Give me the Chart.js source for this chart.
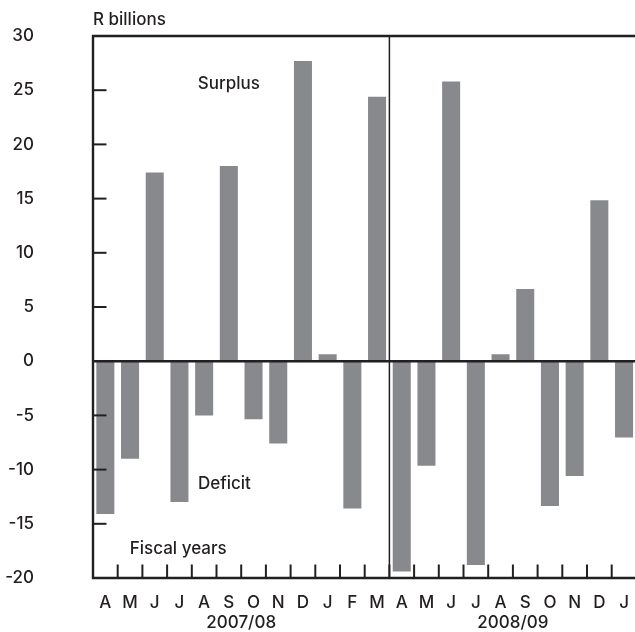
<!DOCTYPE html>
<html><head><meta charset="utf-8">
<script src="https://cdn.jsdelivr.net/npm/chart.js@4.4.1/dist/chart.umd.min.js"></script>
<style>
html,body{margin:0;padding:0;background:#fff;overflow:hidden;width:635px;height:632px}
#wrap{width:640px;height:632px;position:relative}
</style>
</head><body>
<div id="wrap"><canvas id="c" width="640" height="632" style="width:640px;height:632px"></canvas></div>
<script>
// ---- data ----
const months = ['A','M','J','J','A','S','O','N','D','J','F','M','A','M','J','J','A','S','O','N','D','J'];
const fiscalYears = ['2007/08','2008/09'];
const yearOfMonth = [0,0,0,0,0,0,0,0,0,0,0,0,1,1,1,1,1,1,1,1,1,1];
const balance = [-14.1,-9.0,17.4,-13.0,-5.0,18.0,-5.35,-7.6,27.7,0.65,-13.6,24.4,
                 -19.4,-9.65,25.8,-18.8,0.65,6.65,-13.35,-10.6,14.85,-7.05];
const yTicks = [-20,-15,-10,-5,0,5,10,15,20,25,30];
const unitLabel = 'R billions';
const notes = [
  {text:'Surplus', x:5, y:25.6, align:'center'},
  {text:'Deficit', x:3.75, y:-11.3, align:'left'},
  {text:'Fiscal years', x:2.95, y:-17.3, align:'center'}
];

const INK = '#231f20';
const BAR = '#88898d';
const FONT = "Inter, 'Liberation Sans', Arial, sans-serif";
const WEIGHT = 500;

const framePlugin = {
  id: 'frame',
  afterDatasetsDraw(chart) {
    const {ctx, chartArea: a, scales: {x, y}} = chart;
    ctx.save();
    ctx.strokeStyle = INK;
    ctx.lineCap = 'butt';
    // ticks on left axis (inward)
    ctx.lineWidth = 2;
    yTicks.forEach(v => {
      if (v === 0 || v === yTicks[0] || v === yTicks[yTicks.length-1]) return;
      const py = y.getPixelForValue(v);
      ctx.beginPath(); ctx.moveTo(a.left, py); ctx.lineTo(a.left + 13.5, py); ctx.stroke();
    });
    // ticks on bottom axis (inward) at category boundaries
    for (let i = 1; i < months.length; i++) {
      const px = (x.getPixelForValue(i-1) + x.getPixelForValue(i)) / 2;
      ctx.beginPath(); ctx.moveTo(px, a.bottom); ctx.lineTo(px, a.bottom - 13.5); ctx.stroke();
    }
    // fiscal year divider
    ctx.lineWidth = 1.5;
    for (let i = 1; i < months.length; i++) {
      if (yearOfMonth[i] !== yearOfMonth[i-1]) {
        const px = (x.getPixelForValue(i-1) + x.getPixelForValue(i)) / 2;
        ctx.beginPath(); ctx.moveTo(px, a.top); ctx.lineTo(px, a.bottom); ctx.stroke();
      }
    }
    // frame + zero line
    ctx.lineWidth = 2.4;
    ctx.beginPath();
    ctx.moveTo(a.right + 5, a.top); ctx.lineTo(a.left, a.top); ctx.lineTo(a.left, a.bottom); ctx.lineTo(a.right + 5, a.bottom);
    ctx.stroke();
    const z = y.getPixelForValue(0);
    ctx.beginPath(); ctx.moveTo(a.left, z); ctx.lineTo(a.right + 5, z); ctx.stroke();

    // texts
    ctx.fillStyle = INK;
    ctx.font = WEIGHT + ' 17px ' + FONT;
    ctx.textBaseline = 'middle';
    notes.forEach(n => {
      ctx.textAlign = n.align;
      ctx.fillText(n.text, x.getPixelForValue(n.x), y.getPixelForValue(n.y));
    });
    ctx.textAlign = 'left';
    ctx.fillText(unitLabel, a.left, a.top - 16);
    // year labels centred under their months
    ctx.textAlign = 'center';
    fiscalYears.forEach((fy, k) => {
      const idx = yearOfMonth.map((v,i)=>v===k?i:-1).filter(i=>i>=0);
      const cx = (x.getPixelForValue(idx[0]) + x.getPixelForValue(idx[idx.length-1])) / 2;
      ctx.fillText(fy, cx, a.bottom + 45);
    });
    ctx.restore();
  }
};

new Chart(document.getElementById('c'), {
  type: 'bar',
  data: {
    labels: months,
    datasets: [{
      data: balance,
      backgroundColor: BAR,
      borderWidth: 0,
      categoryPercentage: 1,
      barPercentage: 0.73
    }]
  },
  options: {
    responsive: false,
    animation: false,
    devicePixelRatio: 1,
    layout: {padding: {top: 36, right: 3.6, bottom: 0, left: 0}},
    plugins: {legend: {display: false}, tooltip: {enabled: false}},
    scales: {
      x: {
        offset: true,
        grid: {display: false, drawTicks: false},
        border: {display: false},
        ticks: {color: INK, font: {family: FONT, size: 17, weight: WEIGHT}, padding: 15, maxRotation: 0, autoSkip: false},
        afterFit(s) { s.height = 54; s.paddingLeft = 0; s.paddingRight = 0; }
      },
      y: {
        min: -20, max: 30,
        afterBuildTicks(s) { s.ticks = yTicks.map(v => ({value: v})); },
        grid: {display: false, drawTicks: false},
        border: {display: false},
        ticks: {color: INK, font: {family: FONT, size: 17, weight: WEIGHT}, padding: 59},
        afterFit(s) { s.width = 93; s.paddingTop = 0; s.paddingBottom = 0; }
      }
    }
  },
  plugins: [framePlugin]
});
</script>
</body></html>
